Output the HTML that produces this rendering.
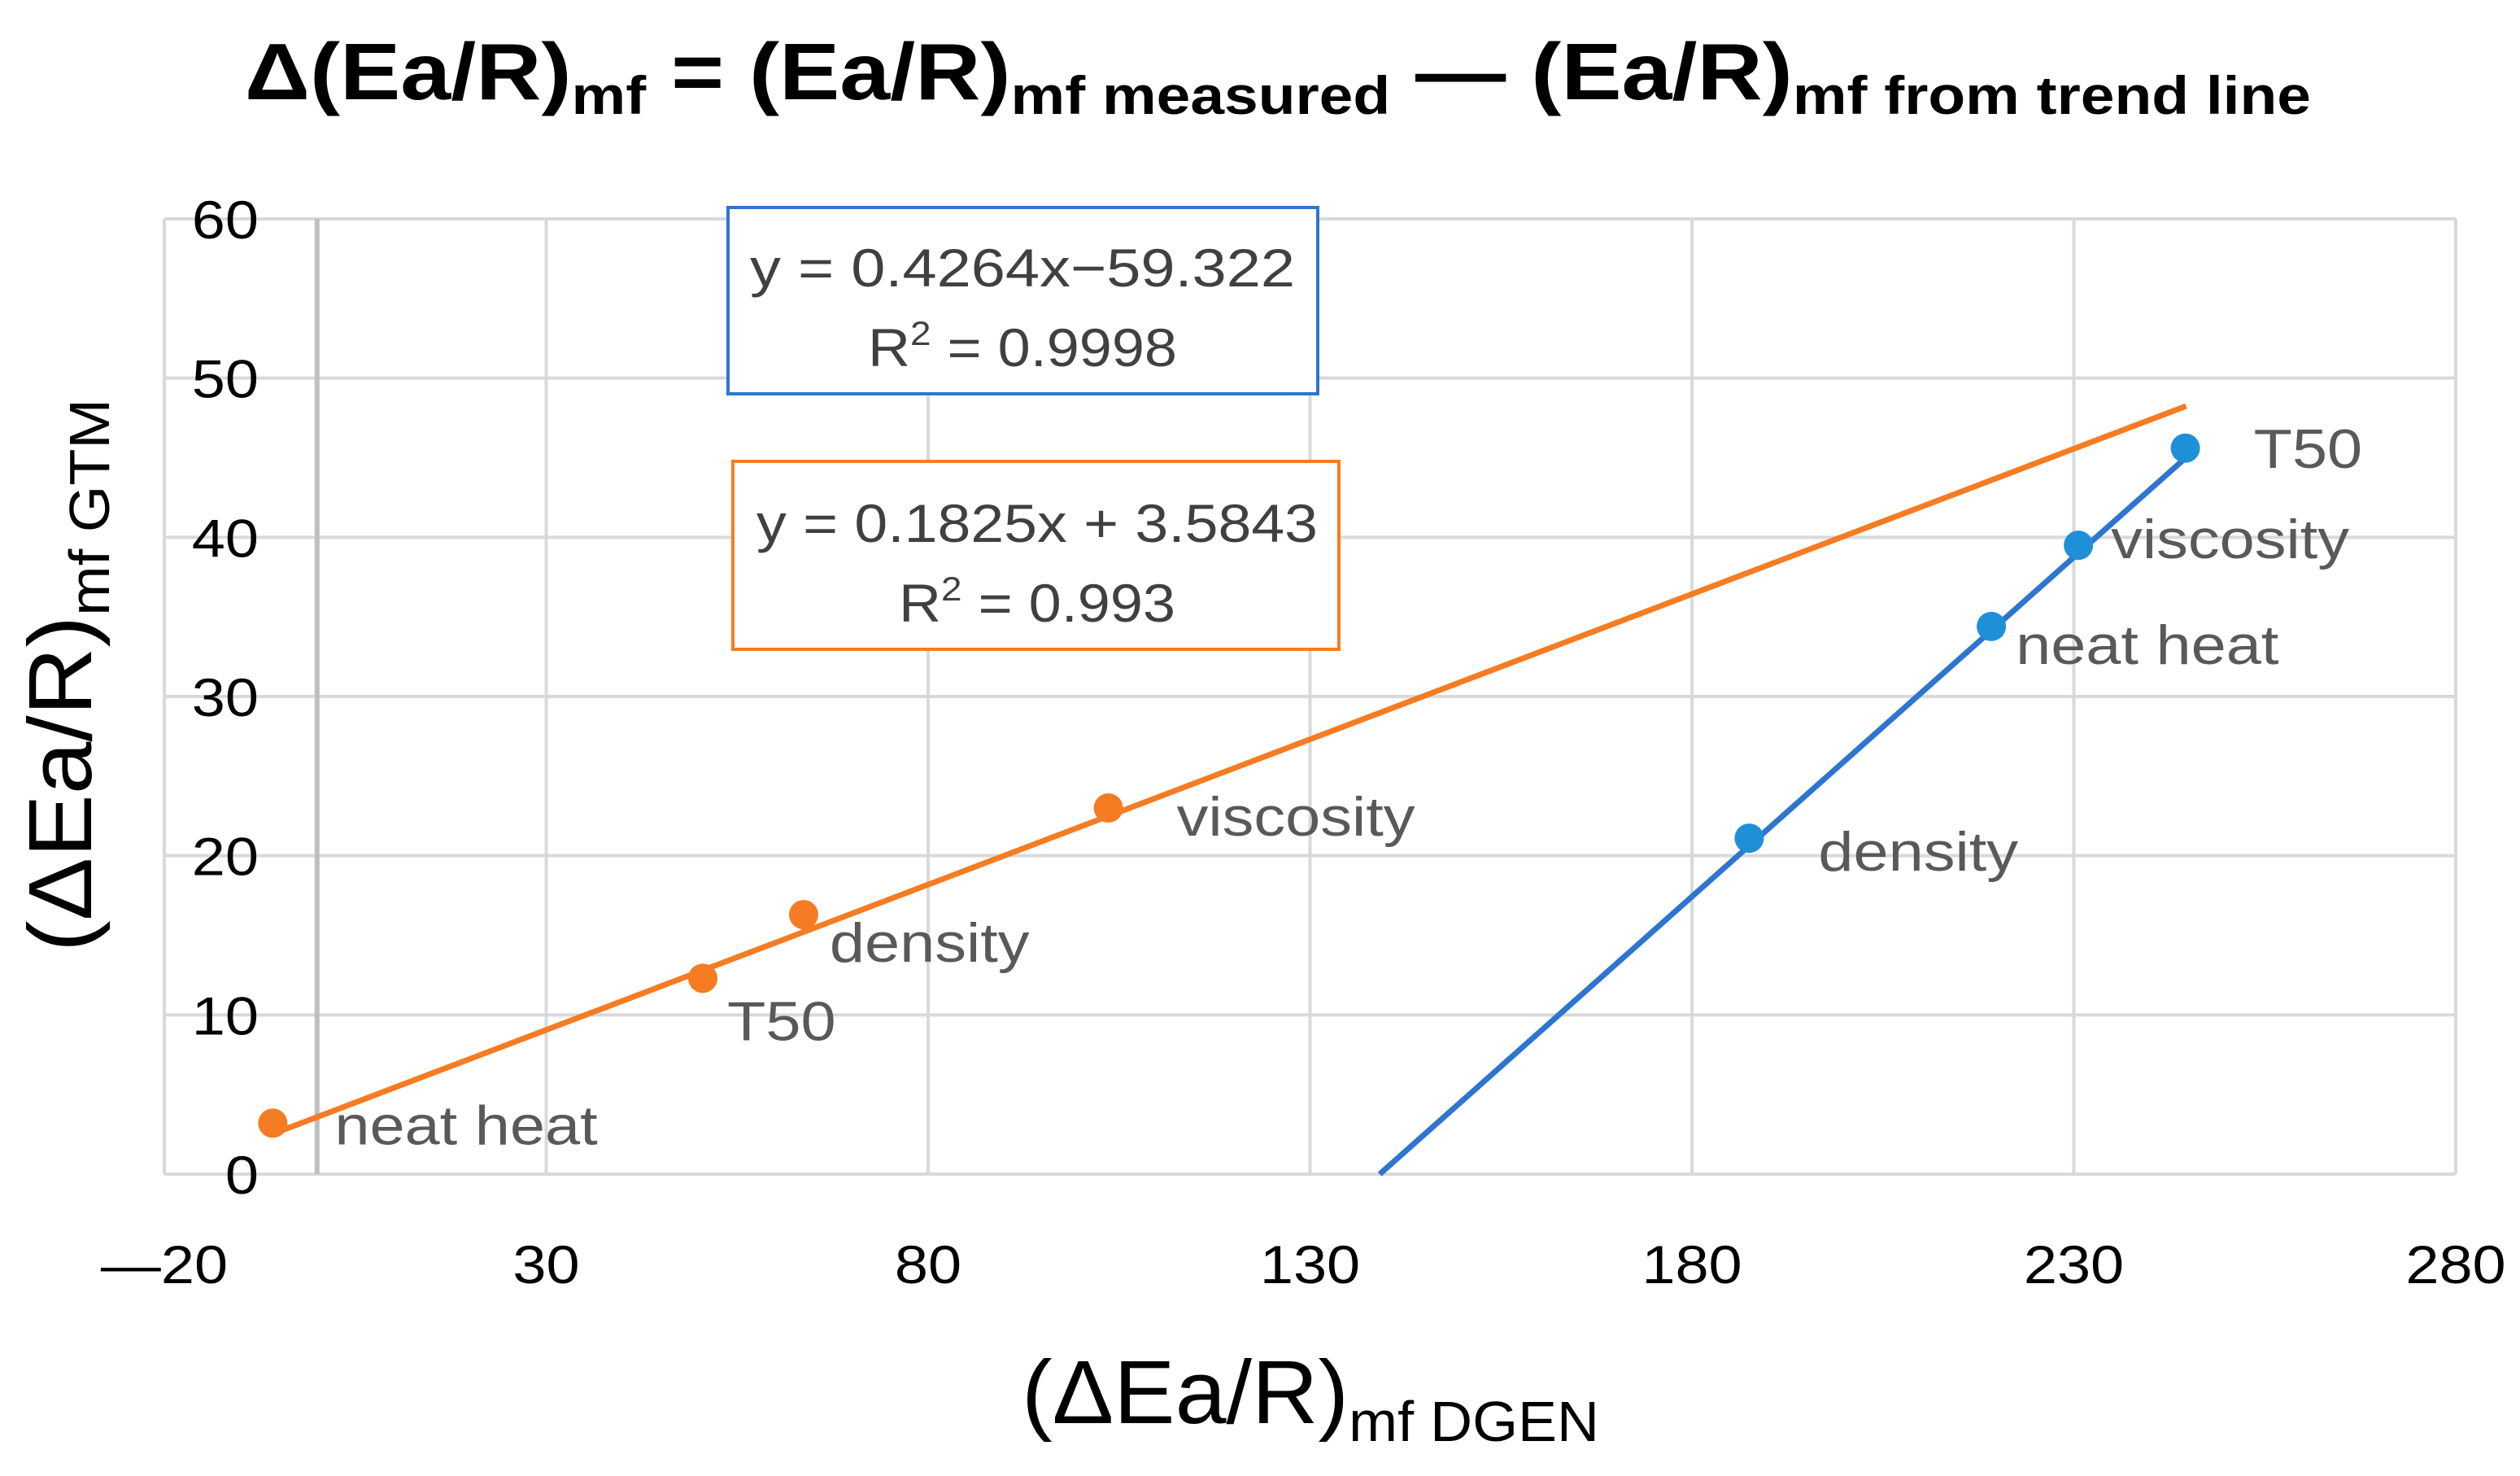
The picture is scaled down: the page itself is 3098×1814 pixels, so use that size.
<!DOCTYPE html>
<html><head><meta charset="utf-8"><style>
html,body{margin:0;padding:0;background:#fff;}
svg{display:block;font-family:"Liberation Sans",sans-serif;}
</style></head><body>
<svg id="chart" width="3098" height="1814" viewBox="0 0 3098 1814" xmlns="http://www.w3.org/2000/svg">
<text x="1571" y="122" text-anchor="middle" font-weight="bold" font-size="98" fill="#000" textLength="2540" lengthAdjust="spacingAndGlyphs">Δ(Ea/R)<tspan font-size="66" dy="18">mf</tspan><tspan dy="-18"> = (Ea/R)</tspan><tspan font-size="66" dy="18">mf measured</tspan><tspan dy="-18"> — (Ea/R)</tspan><tspan font-size="66" dy="18">mf from trend line</tspan></text>
<g id="grid"></g>
<g id="ticks"></g>
<g id="series"></g>
<text transform="translate(112,830) rotate(-90)" text-anchor="middle" font-size="110" fill="#000" textLength="680" lengthAdjust="spacingAndGlyphs">(ΔEa/R)<tspan font-size="70" dy="22">mf GTM</tspan></text>
<text x="1611" y="1749" text-anchor="middle" font-size="110" fill="#000" textLength="710" lengthAdjust="spacingAndGlyphs">(ΔEa/R)<tspan font-size="70" dy="22">mf DGEN</tspan></text>
<g>
<rect x="895" y="255" width="725" height="229" fill="#fff" stroke="#2e75d0" stroke-width="4"/>
<text x="1257" y="352" text-anchor="middle" font-size="66" fill="#404040" textLength="670" lengthAdjust="spacingAndGlyphs">y = 0.4264x−59.322</text>
<text x="1257" y="450" text-anchor="middle" font-size="66" fill="#404040" textLength="380" lengthAdjust="spacingAndGlyphs">R<tspan font-size="42" dy="-26">2</tspan><tspan dy="26"> = 0.9998</tspan></text>
</g>
<g>
<rect x="901" y="567" width="745" height="231" fill="#fff" stroke="#f57c22" stroke-width="4"/>
<text x="1275" y="666" text-anchor="middle" font-size="66" fill="#404040" textLength="690" lengthAdjust="spacingAndGlyphs">y = 0.1825x + 3.5843</text>
<text x="1275" y="764" text-anchor="middle" font-size="66" fill="#404040" textLength="340" lengthAdjust="spacingAndGlyphs">R<tspan font-size="42" dy="-26">2</tspan><tspan dy="26"> = 0.993</tspan></text>
</g>
</svg>
<script>
const xTicks = [-20, 30, 80, 130, 180, 230, 280];
const yTicks = [0, 10, 20, 30, 40, 50, 60];
const orangeLabels = ["neat heat", "T50", "density", "viscosity"];
const orangeX = [-5.8, 50.5, 63.7, 103.6];
const orangeY = [3.2, 12.3, 16.3, 23.0];
const orangeSlope = 0.1825, orangeIntercept = 3.5843;
const blueLabels = ["density", "neat heat", "viscosity", "T50"];
const blueX = [187.5, 219.2, 230.6, 244.6];
const blueY = [21.1, 34.4, 39.5, 45.6];
const blueSlope = 0.4264, blueIntercept = -59.322;

const X0 = 202, X1 = 3019, Y0 = 1443, Y1 = 269;
function sx(v){ return X0 + (v - (-20)) / 300 * (X1 - X0); }
function sy(v){ return Y0 - v / 60 * (Y0 - Y1); }
const NS = "http://www.w3.org/2000/svg";
function mk(tag, attrs, parent){ const e = document.createElementNS(NS, tag); for (const k in attrs) e.setAttribute(k, attrs[k]); parent.appendChild(e); return e; }
function widen(t, k){ const w = t.getComputedTextLength(); t.setAttribute('textLength', w * k); t.setAttribute('lengthAdjust', 'spacingAndGlyphs'); }
const grid = document.getElementById('grid'), ticks = document.getElementById('ticks'), series = document.getElementById('series');

yTicks.forEach(t => {
  const l = mk('line', {x1: X0, x2: X1, y1: sy(t), y2: sy(t), stroke: '#d9d9d9', 'stroke-width': 4}, grid);
  
  
  const tx = mk('text', {x: 318, y: sy(t) + 24, 'text-anchor': 'end', 'font-size': 66, fill: '#000'}, ticks);
  
  
  tx.textContent = t;
  widen(tx, 1.12);
});
xTicks.forEach(t => {
  const l = mk('line', {x1: sx(t), x2: sx(t), y1: Y1, y2: Y0, stroke: '#d9d9d9', 'stroke-width': 4}, grid);
  
  
  const tx = mk('text', {x: sx(t), y: 1577, 'text-anchor': 'middle', 'font-size': 66, fill: '#000'}, ticks);
  
  
  tx.textContent = t < 0 ? '—' + Math.abs(t) : t;
  widen(tx, 1.12);
});
const zl = mk('line', {x1: sx(0), x2: sx(0), y1: Y1, y2: Y0, stroke: '#bfbfbf', 'stroke-width': 6}, grid);



const oxa = Math.min(...orangeX), oxb = 244.7;
const ol = mk('line', {x1: sx(oxa), y1: sy(orangeSlope*oxa+orangeIntercept), x2: sx(oxb), y2: sy(orangeSlope*oxb+orangeIntercept), stroke: '#f57c22', 'stroke-width': 7}, series);


const bxa = -blueIntercept / blueSlope, bxb = Math.max(...blueX);
const bl = mk('line', {x1: sx(bxa), y1: sy(0), x2: sx(bxb), y2: sy(blueSlope*bxb+blueIntercept), stroke: '#2e75d0', 'stroke-width': 7}, series);



const orangeOff = [[76, 26], [30, 76], [32, 58], [84, 34]];
const blueOff = [[85, 40], [30, 46], [40, 16], [84, 24]];
orangeX.forEach((x, i) => {
  const c = mk('circle', {cx: sx(x), cy: sy(orangeY[i]), r: 18, fill: '#f57c22'}, series);
  
  
  const t = mk('text', {x: sx(x) + orangeOff[i][0], y: sy(orangeY[i]) + orangeOff[i][1], 'font-size': 68, fill: '#595959'}, series);
  
  
  t.textContent = orangeLabels[i];
  widen(t, 1.14);
});
blueX.forEach((x, i) => {
  const c = mk('circle', {cx: sx(x), cy: sy(blueY[i]), r: 18, fill: '#1f8fd8'}, series);
  
  
  const t = mk('text', {x: sx(x) + blueOff[i][0], y: sy(blueY[i]) + blueOff[i][1], 'font-size': 68, fill: '#595959'}, series);
  
  
  t.textContent = blueLabels[i];
  widen(t, 1.14);
});
</script>
</body></html>
